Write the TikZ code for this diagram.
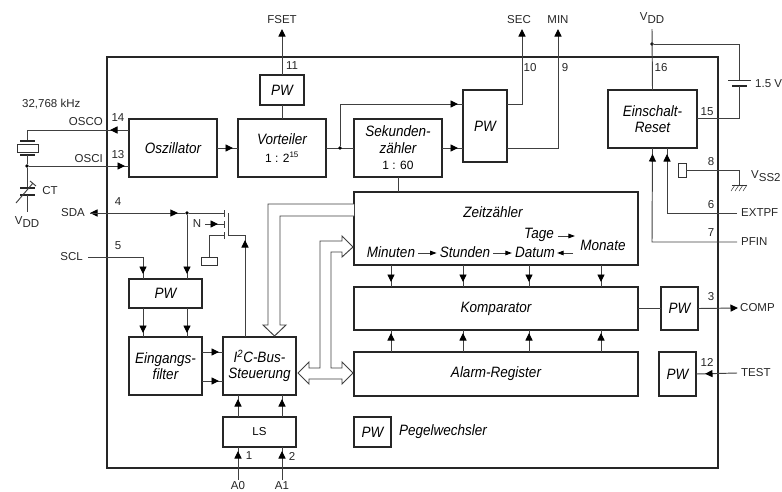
\documentclass[tikz,border=0pt]{standalone}
\usepackage{fontspec}
\setmainfont{Liberation Sans}
\newfontfamily\itf[FakeStretch=0.9]{Liberation Sans}
\usetikzlibrary{arrows.meta,decorations.markings,calc}
\tikzset{
  >={Triangle[length=7.5pt,width=7pt,color=black]},
  wire/.style={line width=0.95pt,draw=black!75},
  arrat/.style={postaction={decorate,decoration={markings,mark=at position #1 with {\arrow{>}}}}},
  smallarr/.style={wire,-{Triangle[length=6.5pt,width=4.5pt,color=black]}},
  blk/.style={draw=black!85,line width=1.4pt,fill=white,inner sep=0pt,outer sep=0pt,align=center,
    font=\fontsize{15}{16.5}\selectfont\itf\itshape},
  lab/.style={inner sep=0pt,font=\fontsize{15}{16.5}\selectfont\itf\itshape},
  txt/.style={inner sep=0pt,text=black!85,font=\fontsize{11.5}{13}\selectfont},
  jdot/.style={circle,fill=black,inner sep=0pt,minimum size=3.8pt},
  bus/.style={draw=black!75,line width=0.95pt,fill=white,line join=miter},
  plate/.style={line width=1.6pt,draw=black!85},
}
\begin{document}
\begin{tikzpicture}[x=1pt,y=-1pt]
\useasboundingbox (0,0) rectangle (782,491);
% chip outline
\node[draw=black!85,line width=1.5pt,inner sep=0pt,minimum width=611pt,minimum height=411pt] (chip) at (412.5,262.5) {};

% free connector ends
\coordinate (fset) at (282,29);
\coordinate (sec) at (522,29);
\coordinate (min) at (558,29);
\coordinate (vdd) at (652,29);
\coordinate (comp) at (738,308);
\coordinate (test) at (737,373);
\coordinate (extpf) at (737,213);
\coordinate (pfin) at (737,242);
\coordinate (a0) at (238,479.5);
\coordinate (a1) at (282,479.5);
\coordinate (sda) at (90,213);
\coordinate (scl) at (88,257);

% blocks
\node[blk,minimum width=88pt,minimum height=58pt] (osc) at (173,148) {Oszillator};
\node[blk,minimum width=88pt,minimum height=58pt] (vor) at (282,148) {Vorteiler\\[1pt]{\normalfont\fontsize{12}{13}\selectfont 1 : 2\textsuperscript{15}}};
\node[blk,minimum width=44pt,minimum height=30pt] (pwt) at (282,90) {PW};
\node[blk,minimum width=88pt,minimum height=58pt] (sek) at (398,148) {Sekunden-\\zähler\\{\normalfont\fontsize{12}{13}\selectfont 1 : 60}};
\node[blk,minimum width=44pt,minimum height=72pt] (pwm) at (485,126) {PW};
\node[blk,minimum width=89pt,minimum height=58pt] (ein) at (652.5,119) {Einschalt-\\Reset};
\node[blk,minimum width=284pt,minimum height=73pt] (zeit) at (496,228.5) {};
\node[blk,minimum width=284pt,minimum height=43pt] (kom) at (496,308.5) {Komparator};
\node[blk,minimum width=284pt,minimum height=44pt] (alm) at (496,374) {Alarm-Register};
\node[blk,minimum width=37pt,minimum height=43pt] (pwc) at (679.5,308.5) {PW};
\node[blk,minimum width=37pt,minimum height=44pt] (pwx) at (677.5,374) {PW};
\node[blk,minimum width=37pt,minimum height=30pt] (pwl) at (372.5,432) {PW};
\node[lab,anchor=west] (pegel) at (399,432) {Pegelwechsler};
\node[blk,minimum width=73pt,minimum height=30pt] (ls) at (259.5,432) {\normalfont\fontsize{11.5}{13}\selectfont LS};
\node[blk,minimum width=73pt,minimum height=58pt] (i2c) at (259.5,366) {I\textsuperscript{2}C-Bus-\\Steuerung};
\node[blk,minimum width=73pt,minimum height=58pt] (flt) at (165.5,366) {Eingangs-\\filter};
\node[blk,minimum width=73pt,minimum height=29pt] (pwe) at (165.5,293.5) {PW};

% Zeitzaehler contents
\node[lab] (zz) at (493,212) {Zeitzähler};
\node[lab] (tage) at (539,235) {Tage};
\node[lab] (monate) at (603,245) {Monate};
\node[lab] (minuten) at (391,252) {Minuten};
\node[lab] (stunden) at (465,252) {Stunden};
\node[lab] (datum) at (535,252) {Datum};
\draw[smallarr] (minuten.east)+(3,1) -- ($(stunden.west)+(-3,1)$);
\draw[smallarr] (stunden.east)+(3,1) -- ($(datum.west)+(-3,1)$);
\draw[smallarr] (tage.east)+(4,1) -- +(21,1);
\draw[smallarr] (datum.east)+(18,1) -- +(2,1);

% top connectors
\draw[wire,->] (pwt.north) -- (fset);
\draw[wire] (vor.north) -- (pwt.south);
\draw[wire,arrat=-5pt] (osc.east) -- (vor.west);
\draw[wire] (vor.east) -- (sek.west);
\node[jdot] (dv) at (340,148) {};
\draw[wire,arrat=-5pt] (dv) -- (340,104) -- (340,104 -| pwm.west);
\draw[wire,arrat=-5pt] (sek.east) -- (sek.east -| pwm.west);
\draw[wire,->] (pwm.east |- 0,104) -- (522,104) -- (sec);
\draw[wire,->] (pwm.east |- 0,148) -- (558,148) -- (min);
\draw[wire] (398,0 |- sek.south) -- (398,0 |- zeit.north);

% zeit-kom-alarm
\foreach \xx in {391,463,529,601}{
  \draw[wire,arrat=-5pt] (\xx,0 |- zeit.south) -- (\xx,0 |- kom.north);
  \draw[wire,arrat=-3pt] (\xx,0 |- alm.north) -- (\xx,0 |- kom.south);
}
\draw[wire] (kom.east) -- (pwc.west);
\draw[wire,->] (pwc.east) -- (comp);
\draw[wire,arrat=-9pt] (test) -- (pwx.east);

% Einschalt
\node[jdot] (dvdd) at (652,44) {};
\draw[wire] (vdd) -- (ein.north);
\coordinate (bt) at (739,80);
\coordinate (bb) at (739,86);
\draw[wire] (dvdd) -- (739,44) -- (bt);
\draw[line width=1pt,draw=black!80] (728,80) -- (751,80);
\draw[plate] (732,86) -- (747,86);
\draw[wire] (bb) -- (739,118) -- (739,118 -| ein.east);
\draw[wire,arrat=-6pt] (extpf) -- (667,213) -- (667,0 |- ein.south);
\draw[wire,arrat=-6pt] (pfin) -- (652,242) -- (ein.south);
\node[draw=black!80,line width=0.8pt,fill=white,inner sep=0pt,minimum width=8pt,minimum height=14pt] (r8) at (682,170) {};
\coordinate (gnd) at (739,185);
\draw[wire] (r8.east) -- (739,170) -- (gnd);
\draw[line width=1pt,draw=black!80] (732,185) -- (747,185);
\foreach \xx in {735,739,743,747}{\draw[line width=0.5pt,draw=black!80] (\xx,185) -- ++(-4,6);}

% oscillator external
\node[jdot] (dx) at (27,166) {};
\coordinate (xt) at (27,141);
\draw[wire,arrat=19pt] (osc.west |- 0,130) -- (27,130) -- (xt);
\draw[wire,arrat=-4pt] (dx) -- (dx -| osc.west);
\draw[plate] (20,141) -- (35,141);
\node[draw=black!80,line width=0.8pt,inner sep=0pt,minimum width=21pt,minimum height=8pt] (xtal) at (27.5,148) {};
\draw[plate] (20,155) -- (35,155);
\draw[wire] (27,155) -- (dx);
\coordinate (ct) at (27,188);
\draw[wire] (dx) -- (ct);
\draw[plate] (20,188) -- (35,188);
\draw[plate] (20,195) -- (35,195);
\draw[wire] (27,195) -- (27,212);
\draw[wire] (16,203) -- (33,183);
\draw[wire] (30,181) -- (36,186);

% SDA, SCL, FET
\node[jdot] (dsda) at (187,213) {};
\draw[wire,->] (dsda) -- (sda);
\draw[wire,arrat=-7pt] (sda) -- (dsda);
\coordinate (g1) at (224,213);
\coordinate (g2) at (224,224);
\coordinate (g3) at (224,235);
\draw[wire] (dsda) -- (g1);
\draw[wire,arrat=-6pt] (205,224) -- (g2);
\draw[wire] (224,210) -- (224,217);
\draw[wire] (224,221) -- (224,228);
\draw[wire] (224,232) -- (224,239);
\draw[wire] (228,213) -- (228,235);
\draw[wire,arrat=97pt] (245,0 |- i2c.north) -- (245,235) -- (228,235);
\node[draw=black!80,line width=0.8pt,fill=white,inner sep=0pt,minimum width=16pt,minimum height=8pt] (gate) at (209,261) {};
\draw[wire] (g3) -- (209,235) -- (gate.north);
\draw[wire,arrat=-5pt] (scl) -- (143,257) -- (143,0 |- pwe.north);
\draw[wire,arrat=-5pt] (dsda) -- (187,0 |- pwe.north);
\draw[wire,arrat=-4pt] (143,0 |- pwe.south) -- (143,0 |- flt.north);
\draw[wire,arrat=-4pt] (187,0 |- pwe.south) -- (187,0 |- flt.north);
\draw[wire,arrat=-4pt] (flt.east |- 0,352) -- (i2c.west |- 0,352);
\draw[wire,arrat=-4pt] (flt.east |- 0,381) -- (i2c.west |- 0,381);
\draw[wire,arrat=-4pt] (238,0 |- ls.north) -- (238,0 |- i2c.south);
\draw[wire,arrat=-4pt] (282,0 |- ls.north) -- (282,0 |- i2c.south);
\draw[wire,arrat=-4pt] (a0) -- (238,0 |- ls.south);
\draw[wire,arrat=-4pt] (a1) -- (282,0 |- ls.south);

% open bus arrows
\draw[bus] (zeit.west |- 0,204) -- (268,204) -- (268,325) -- (263,325) -- (274.5,336) -- (286,325) -- (280,325) -- (280,216) -- (zeit.west |- 0,216);
\draw[bus] (298,373) -- (309,362) -- (309,368) -- (320,368) -- (320,241) -- (342,241) -- (342,236) -- (353,247) -- (342,257) -- (342,252) -- (331,252) -- (331,368) -- (342,368) -- (342,362) -- (353,373) -- (342,384) -- (342,379) -- (309,379) -- (309,384) -- cycle;

% external labels
\node[txt] (lfset) at (282,20) {FSET};
\node[txt] (lsec) at (519,20) {SEC};
\node[txt] (lmin) at (558,20) {MIN};
\node[txt] (lvdd) at (652,18) {V\raisebox{-3pt}{DD}};
\node[txt] (l11) at (292,66) {11};
\node[txt] (l10) at (530,68) {10};
\node[txt] (l9) at (565,68) {9};
\node[txt] (l16) at (661,68) {16};
\node[txt] (l15) at (707,112) {15};
\node[txt] (l8) at (711,162) {8};
\node[txt] (l6) at (711,205) {6};
\node[txt] (l7) at (711,233) {7};
\node[txt] (l3) at (711,297) {3};
\node[txt] (l12) at (707,362) {12};
\node[txt,anchor=west] (l1v5) at (755,84) {1.5 V};
\node[txt,anchor=west] (lvss) at (751,176) {V\raisebox{-3pt}{SS2}};
\node[txt,anchor=west] (lext) at (741,213) {EXTPF};
\node[txt,anchor=west] (lpf) at (741,242) {PFIN};
\node[txt,anchor=west] (lcomp) at (740,308) {COMP};
\node[txt,anchor=west] (ltest) at (741,373) {TEST};
\node[txt,anchor=west] (lkhz) at (22,104) {32,768 kHz};
\node[txt,anchor=east] (losco) at (103,122) {OSCO};
\node[txt,anchor=east] (losci) at (103,159) {OSCI};
\node[txt] (l14) at (118,118) {14};
\node[txt] (l13) at (118,155) {13};
\node[txt] (lct) at (50,191) {CT};
\node[txt] (lvdd2) at (27,222) {V\raisebox{-3pt}{DD}};
\node[txt,anchor=east] (lsda) at (85,213) {SDA};
\node[txt,anchor=east] (lscl) at (83,257) {SCL};
\node[txt] (l4) at (118,202) {4};
\node[txt] (l5) at (118,246) {5};
\node[txt] (ln) at (197,224) {N};
\node[txt] (l1) at (249,456) {1};
\node[txt] (l2) at (292,456) {2};
\node[txt] (la0) at (238,485.5) {A0};
\node[txt] (la1) at (282,485.5) {A1};
\end{tikzpicture}
\end{document}
